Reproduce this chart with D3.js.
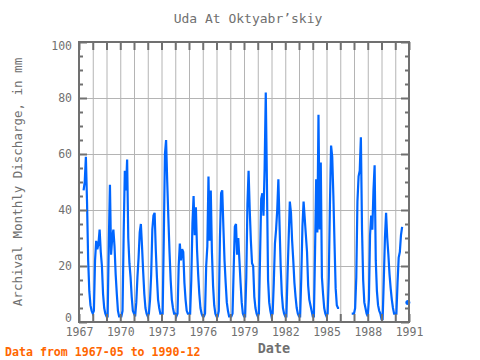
<!DOCTYPE html>
<html><head><meta charset="utf-8">
<script src="https://cdn.jsdelivr.net/npm/d3@7"></script>
<style>body{margin:0;background:#fff} text{font-family:"DejaVu Sans Mono",monospace}</style>
</head><body><svg id="c" width="480" height="360"></svg>
<script>
// Monthly discharge (mm), Jan..Dec per year; null = no data
const d1967=[null,null,null,null,47,50,59,43,22,11,6,4];
const d1968=[3,4,22,29,26,28,33,25,20,10,5,3];
const d1969=[2,2,28,49,24,30,33,27,17,10,4,2];
const d1970=[2,2,4,32,54,47,58,30,21,16,9,4];
const d1971=[3,2,7,16,23,32,35,27,18,10,5,3];
const d1972=[2,3,8,17,33,38,39,26,16,8,5,3];
const d1973=[3,3,30,60,65,50,37,25,15,8,5,3];
const d1974=[3,2,3,20,28,22,26,25,14,8,4,3];
const d1975=[3,3,15,35,45,31,41,26,17,10,5,3];
const d1976=[2,2,3,20,27,52,29,47,25,13,6,3];
const d1977=[2,2,4,30,46,47,34,22,14,7,4,2];
const d1978=[2,2,3,19,34,35,24,30,22,14,7,3];
const d1979=[2,2,16,42,54,40,29,21,20,9,5,3];
const d1980=[2,3,23,44,46,38,55,82,50,15,7,4];
const d1981=[2,3,14,28,33,40,51,35,20,10,5,3];
const d1982=[2,2,17,30,43,39,29,22,14,9,5,3];
const d1983=[2,2,16,34,43,37,31,25,13,8,6,4];
const d1984=[2,2,25,51,32,74,33,57,16,10,5,3];
const d1985=[2,3,16,42,63,59,45,28,12,6,5,5];
const d1986=[null,null,null,null,null,null,null,null,null,null,3,3];
const d1987=[3,5,16,43,52,54,66,33,15,7,5,3];
const d1988=[2,8,31,38,33,47,56,22,11,6,4,3];
const d1989=[1,1,15,30,39,30,24,17,12,8,5,3];
const d1990=[3,3,14,23,25,31,34,null,null,null,null,7];

const dataYears=d3.range(1967,1991);
const perYear=[d1967,d1968,d1969,d1970,d1971,d1972,d1973,d1974,d1975,d1976,d1977,d1978,
  d1979,d1980,d1981,d1982,d1983,d1984,d1985,d1986,d1987,d1988,d1989,d1990];
const xTickYears=[1967,1970,1973,1976,1979,1982,1985,1988,1991];
const yTickValues=[0,20,40,60,80,100];
const titleText="Uda At Oktyabr\u2019skiy";
const yTitle="Archival Monthly Discharge, in mm";
const xTitle="Date";
const noteText="Data from 1967-05 to 1990-12";

const pts=[];
perYear.forEach((arr,i)=>arr.forEach((v,m)=>pts.push({t:dataYears[i]+m/12,v})));

const L=79,R=409,T=42,B=322;
const x=d3.scaleLinear().domain([1967,1991]).range([L,R]);
const y=d3.scaleLinear().domain([0,100]).range([B,T]);
const svg=d3.select("#c");
const frameCol="#707070", gridCol="#b4b4b4", textCol="#707070", lineCol="#0066ff";
const allYears=d3.range(1967,1992);

// grid
svg.append("g").attr("transform",`translate(0,${B})`)
 .call(d3.axisBottom(x).tickValues(d3.range(1968,1991)).tickSize(-(B-T)).tickFormat(""))
 .call(g=>g.select(".domain").remove())
 .call(g=>g.selectAll("line").attr("stroke",gridCol).attr("stroke-width",1));
svg.append("g").attr("transform",`translate(${L},0)`)
 .call(d3.axisLeft(y).tickValues([20,40,60,80]).tickSize(-(R-L)).tickFormat(""))
 .call(g=>g.select(".domain").remove())
 .call(g=>g.selectAll("line").attr("stroke",gridCol).attr("stroke-width",1));

// data line
const line=d3.line().defined(d=>d.v!=null).x(d=>x(d.t)).y(d=>y(d.v));
svg.append("path").datum(pts).attr("d",line).attr("fill","none")
 .attr("stroke",lineCol).attr("stroke-width",2.2);
const iso=pts.filter((d,i)=>d.v!=null&&(i===0||pts[i-1].v==null)&&(i===pts.length-1||pts[i+1].v==null));
svg.selectAll("circle.iso").data(iso).join("circle").attr("class","iso")
 .attr("cx",d=>x(d.t)).attr("cy",d=>y(d.v)).attr("r",2.5).attr("fill",lineCol);

function styleAxis(g){
  g.select(".domain").remove();
  g.selectAll("line").attr("stroke",frameCol).attr("stroke-width",2);
  g.selectAll("text").attr("fill",textCol).style("font-size","11.5px")
   .style("font-family","'DejaVu Sans Mono',monospace");
}
// bottom ticks + labels
svg.append("g").attr("transform",`translate(0,${B})`)
 .call(d3.axisBottom(x).tickValues(allYears).tickSize(-8).tickPadding(6)
   .tickFormat(d=>xTickYears.includes(d)?String(d):""))
 .call(styleAxis);
// top ticks
svg.append("g").attr("transform",`translate(0,${T})`)
 .call(d3.axisTop(x).tickValues(allYears).tickSize(-8).tickFormat("")).call(styleAxis);
// left
const minorY=d3.range(0,101,5).filter(v=>v%20!==0);
svg.append("g").attr("transform",`translate(${L},0)`)
 .call(d3.axisLeft(y).tickValues(minorY).tickSize(-4).tickFormat("")).call(styleAxis);
svg.append("g").attr("transform",`translate(${L},0)`)
 .call(d3.axisLeft(y).tickValues(yTickValues).tickSize(-8).tickPadding(7).tickFormat(d3.format("d")))
 .call(styleAxis)
 .call(g=>g.selectAll("text").attr("y",d=>d===0?-4:(d===100?4:0)));
// right
svg.append("g").attr("transform",`translate(${R},0)`)
 .call(d3.axisRight(y).tickValues(minorY).tickSize(-4).tickFormat("")).call(styleAxis);
svg.append("g").attr("transform",`translate(${R},0)`)
 .call(d3.axisRight(y).tickValues(yTickValues).tickSize(-8).tickFormat("")).call(styleAxis);

// frame
svg.append("rect").attr("x",L).attr("y",T).attr("width",R-L).attr("height",B-T)
 .attr("fill","none").attr("stroke",frameCol).attr("stroke-width",2);

// texts
svg.append("text").attr("x",248).attr("y",23).attr("text-anchor","middle")
 .attr("fill",textCol).style("font-size","13px").text(titleText);
svg.append("text").attr("x",274).attr("y",353).attr("text-anchor","middle")
 .attr("fill",textCol).style("font-size","13.5px").style("font-weight","bold").text(xTitle);
svg.append("text").attr("transform","translate(21.5,182) rotate(-90)").attr("text-anchor","middle")
 .attr("fill",textCol).style("font-size","12.5px").text(yTitle);
svg.append("text").attr("x",5).attr("y",356).attr("fill","#ff6600")
 .style("font-size","11.6px").style("font-weight","bold").text(noteText);
</script></body></html>
